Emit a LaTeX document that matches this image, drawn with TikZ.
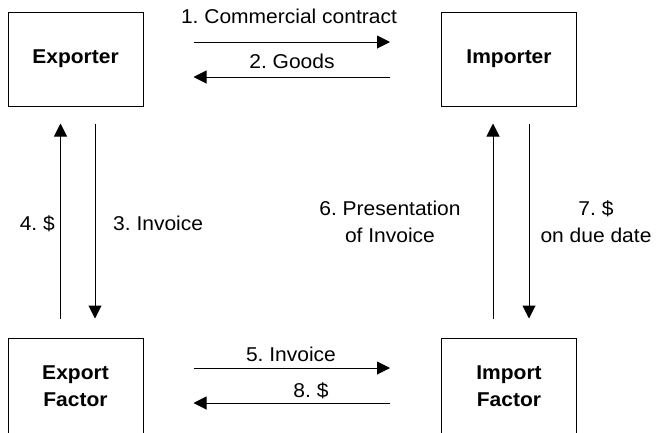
\documentclass[tikz,border=0pt]{standalone}
\usepackage{fontspec}
\setmainfont{Liberation Sans}[FakeStretch=1.05]
\usetikzlibrary{arrows.meta}
\frenchspacing
\tikzset{
  txt/.style={font=\fontsize{20}{27}\selectfont},
  box/.style={draw, line width=1pt, minimum width=135pt, minimum height=94pt,
              inner sep=0pt, align=center, font=\fontsize{20}{27}\selectfont\bfseries},
  arr/.style={line width=1pt, -{Triangle[length=13pt,width=13pt]}},
  lbl/.style={txt, inner sep=0pt, align=center}
}
\begin{document}
\begin{tikzpicture}[x=1pt, y=-1pt]
\useasboundingbox (0,0) rectangle (656,432);

% parties
\node[box] (exp) at (75.5,59) {Exporter};
\node[box] (imp) at (509,59) {Importer};
\node[box, minimum height=96pt] (ef) at (75.5,386) {Export\\Factor};
\node[box, minimum height=96pt] (impf) at (509,386) {Import\\Factor};

% exporter <-> importer
\draw[arr] ([shift={(50pt,17pt)}]exp.east) -- ([shift={(-51pt,17pt)}]imp.west);
\draw[arr] ([shift={(-51pt,-18pt)}]imp.west) -- ([shift={(50pt,-18pt)}]exp.east);
\node[lbl, anchor=base] (l1) at (289,23) {1. Commercial contract};
\node[lbl, anchor=base] (l2) at (292,68) {2. Goods};

% export factor <-> import factor
\draw[arr] ([shift={(50pt,18pt)}]ef.east) -- ([shift={(-51pt,18pt)}]impf.west);
\draw[arr] ([shift={(-51pt,-17pt)}]impf.west) -- ([shift={(50pt,-17pt)}]ef.east);
\node[lbl, anchor=base] (l5) at (291,361) {5. Invoice};
\node[lbl, anchor=base] (l8) at (311,397) {8. \$};

% exporter <-> export factor
\draw[arr] ([shift={(-15pt,19pt)}]ef.north) -- ([shift={(-15pt,-17pt)}]exp.south);
\draw[arr] ([shift={(19.5pt,-17pt)}]exp.south) -- ([shift={(19.5pt,19pt)}]ef.north);
\node[lbl, anchor=base east] (l4) at (55,230) {4. \$};
\node[lbl, anchor=base west] (l3) at (113,230) {3. Invoice};

% importer <-> import factor
\draw[arr] ([shift={(-16pt,19pt)}]impf.north) -- ([shift={(-16pt,-17pt)}]imp.south);
\draw[arr] ([shift={(20pt,-17pt)}]imp.south) -- ([shift={(20pt,19pt)}]impf.north);
\node[lbl] (l6) at (390,221.5) {6. Presentation\\of Invoice};
\node[lbl] (l7) at (596,221.5) {7. \$\\on due date};
\end{tikzpicture}
\end{document}
